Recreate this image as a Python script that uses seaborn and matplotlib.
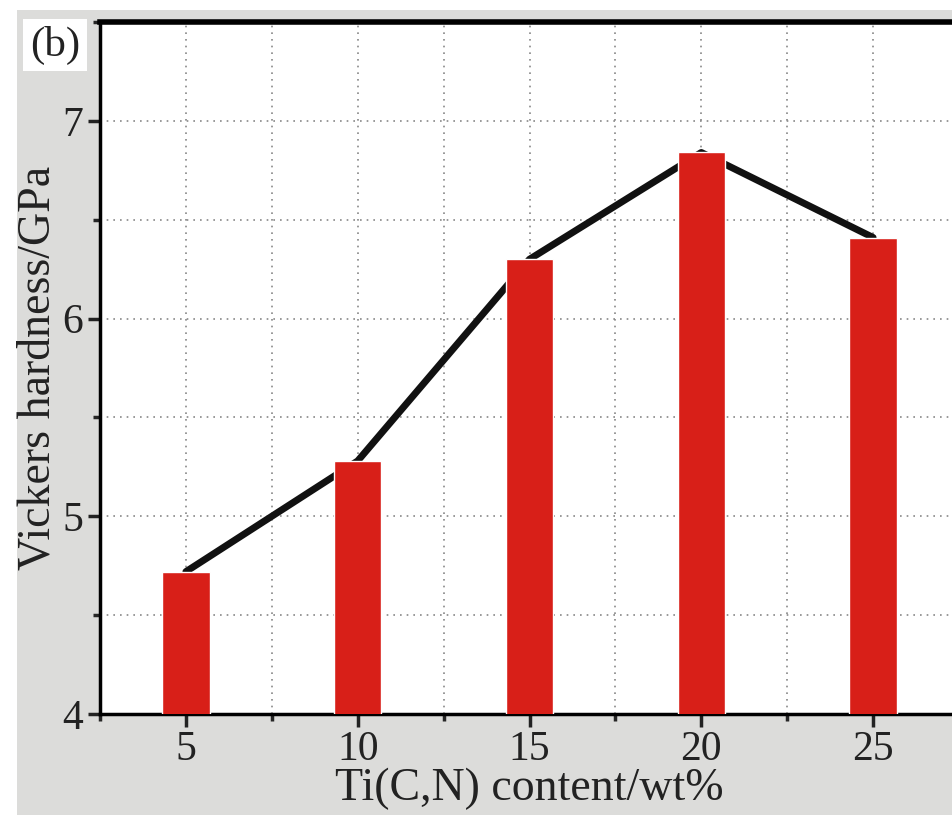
import matplotlib
matplotlib.use("Agg")
import matplotlib.pyplot as plt
import seaborn as sns
import pandas as pd
from matplotlib.ticker import MultipleLocator
from matplotlib.patches import Rectangle

content = [5, 10, 15, 20, 25]
hardness = [4.72, 5.28, 6.30, 6.84, 6.41]

df = pd.DataFrame({"content": content, "hardness": hardness})

sns.set_style("white")
plt.rcParams["font.family"] = ["Liberation Serif", "DejaVu Serif"]

fig = plt.figure(figsize=(9.52, 8.15), dpi=100)
fig.patches.append(Rectangle((17 / 952, 0), 1, 1 - 10 / 815, transform=fig.transFigure,
                             facecolor="#dcdcda", edgecolor="none", zorder=-10))
ax = fig.add_axes([100 / 952, 1 - 714 / 815, 859 / 952, (714 - 22) / 815])
ax.set_facecolor("white")

sns.barplot(data=df, x="content", y="hardness", native_scale=True, width=0.275,
            color="#d81f18", saturation=1, ax=ax, zorder=4)
sns.lineplot(data=df, x="content", y="hardness", color="#111111", linewidth=5, ax=ax, zorder=3)

ax.set_xlim(2.5, 27.5)
ax.set_ylim(4, 7.5)
ax.xaxis.set_major_locator(MultipleLocator(5))
ax.xaxis.set_minor_locator(MultipleLocator(2.5))
ax.yaxis.set_major_locator(MultipleLocator(1))
ax.yaxis.set_minor_locator(MultipleLocator(0.5))
ax.grid(True, which="both", color="#888888", linestyle=(0, (1, 3)), linewidth=1.2, zorder=0)
ax.set_axisbelow(True)

for side in ["left", "bottom"]:
    ax.spines[side].set_linewidth(2.5)
    ax.spines[side].set_color("black")
ax.spines["top"].set_linewidth(4)
ax.spines["top"].set_color("black")
ax.spines["right"].set_visible(False)

ax.tick_params(which="major", direction="out", length=9, width=2.5, labelsize=30,
               colors="#222222", bottom=True, left=True, pad=3)
ax.tick_params(which="minor", direction="out", length=5, width=2.5, bottom=True, left=True)

ax.set_xlabel("Ti(C,N) content/wt%", fontsize=33, color="#222222", labelpad=-1)
ax.set_ylabel("Vickers hardness/GPa", fontsize=33, color="#222222", labelpad=2)

fig.text(55 / 952, 1 - 45 / 815, "(b)", fontsize=31, ha="center", va="center", color="#222222",
         bbox=dict(facecolor="white", edgecolor="none", pad=5))

fig.savefig("out.png", dpi=100)
